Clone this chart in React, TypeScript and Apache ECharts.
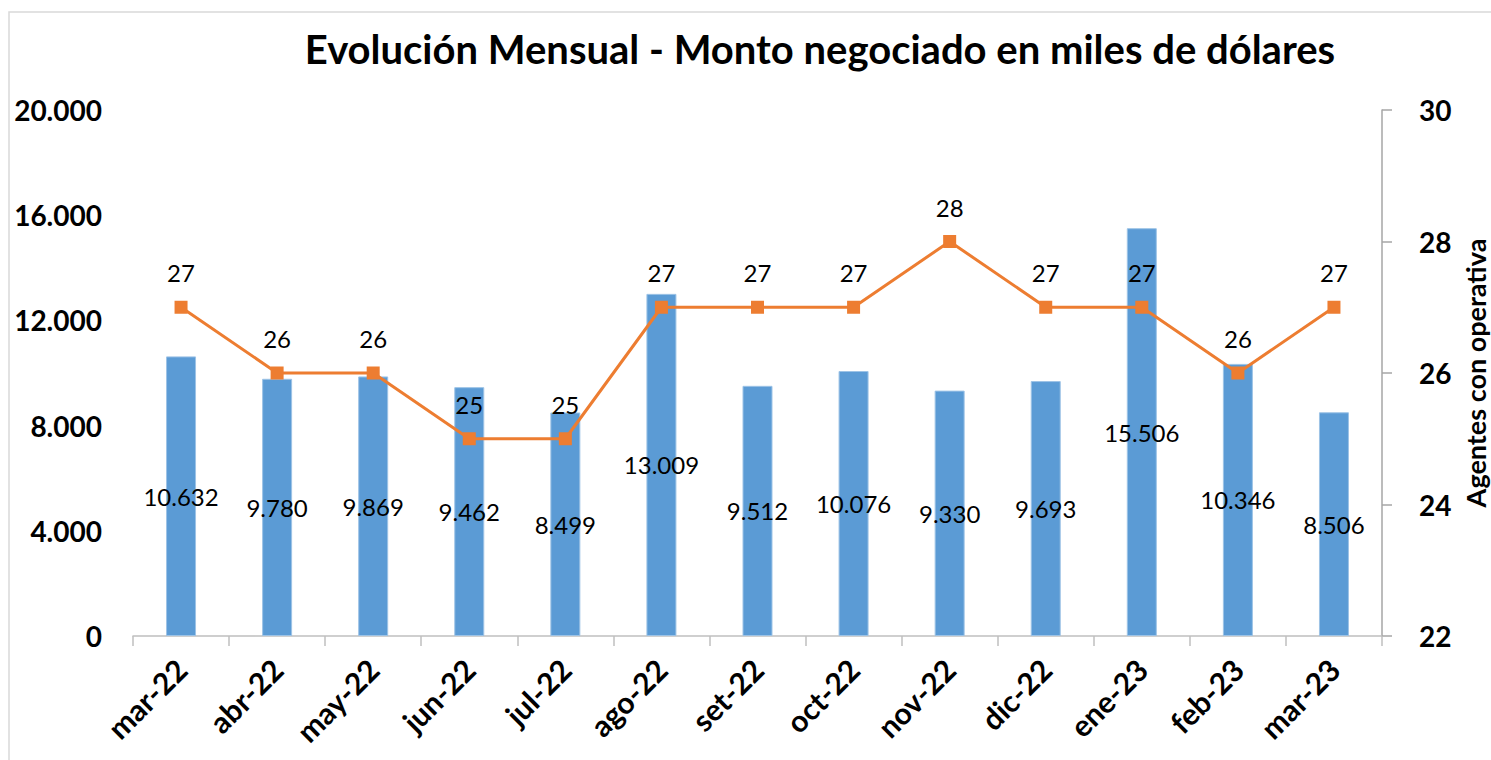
import React, { useEffect, useRef } from "react";
import * as echarts from "echarts";

const categories = ["mar-22", "abr-22", "may-22", "jun-22", "jul-22", "ago-22", "set-22", "oct-22", "nov-22", "dic-22", "ene-23", "feb-23", "mar-23"];
const montoValues = [10632, 9780, 9869, 9462, 8499, 13009, 9512, 10076, 9330, 9693, 15506, 10346, 8506];
const agentesValues = [27, 26, 26, 25, 25, 27, 27, 27, 28, 27, 27, 26, 27];
const leftTicks = { min: 0, max: 20000, interval: 4000 };
const rightTicks = { min: 22, max: 30, interval: 2 };

const fmt = (v: number) => {
  const s = Math.round(v).toString();
  return s.replace(/\B(?=(\d{3})+(?!\d))/g, ".");
};

const FONT = "Lato";

export default function App() {
  const ref = useRef<HTMLDivElement>(null);
  useEffect(() => {
    if (!ref.current) return;
    const chart = echarts.init(ref.current, undefined, { renderer: "svg" });
    chart.setOption({
      animation: false,
      backgroundColor: "#ffffff",
      textStyle: { fontFamily: FONT },
      title: {
        text: "Evolución Mensual - Monto negociado en miles de dólares",
        left: 815,
        textAlign: "center",
        top: 24,
        textStyle: { fontFamily: FONT, fontWeight: "bold", fontSize: 40, color: "#000" },
      },
      graphic: [
        {
          type: "rect",
          shape: { x: 9, y: 12, width: 1520, height: 800 },
          style: { fill: "none", stroke: "#d9d9d9", lineWidth: 1.5 },
          silent: true,
        },
      ],
      grid: { left: 133, right: 109, top: 110, bottom: 124, containLabel: false, outerBoundsMode: "none" },
      xAxis: {
        type: "category",
        data: categories,
        boundaryGap: true,
        axisLine: { show: true, lineStyle: { color: "#bfbfbf", width: 1.5 } },
        axisTick: { show: true, length: 10, lineStyle: { color: "#bfbfbf", width: 1.5 } },
        axisLabel: {
          rotate: 45,
          margin: 28,
          fontFamily: FONT,
          fontWeight: "bold",
          fontSize: 30,
          color: "#000",
          interval: 0,
        },
      },
      yAxis: [
        {
          type: "value",
          min: leftTicks.min,
          max: leftTicks.max,
          interval: leftTicks.interval,
          position: "left",
          axisLine: { show: false },
          axisTick: { show: false },
          splitLine: { show: false },
          axisLabel: {
            formatter: (v: number) => fmt(v),
            fontFamily: FONT,
            fontWeight: "bold",
            fontSize: 28,
            color: "#000",
            margin: 31,
          },
        },
        {
          type: "value",
          min: rightTicks.min,
          max: rightTicks.max,
          interval: rightTicks.interval,
          position: "right",
          name: "Agentes con operativa",
          nameLocation: "middle",
          nameRotate: 90,
          nameGap: 77,
          nameTextStyle: { fontFamily: FONT, fontWeight: "bold", fontSize: 27, color: "#000" },
          axisLine: { show: true, lineStyle: { color: "#a6a6a6", width: 1.5 } },
          axisTick: { show: true, inside: false, length: 10, lineStyle: { color: "#a6a6a6", width: 1.5 } },
          splitLine: { show: false },
          axisLabel: {
            fontFamily: FONT,
            fontWeight: "bold",
            fontSize: 28,
            color: "#000",
            margin: 37,
          },
        },
      ],
      series: [
        {
          type: "bar",
          name: "Monto",
          data: montoValues,
          yAxisIndex: 0,
          barWidth: 30,
          itemStyle: { color: "#5b9bd5", borderColor: "#9dc3e6", borderWidth: 1 },
          label: {
            show: true,
            position: "inside",
            formatter: (p: any) => fmt(p.value),
            fontFamily: FONT,
            fontSize: 24,
            color: "#000",
          },
          z: 2,
        },
        {
          type: "line",
          name: "Agentes",
          data: agentesValues,
          yAxisIndex: 1,
          symbol: "rect",
          symbolSize: 13,
          lineStyle: { color: "#ed7d31", width: 3 },
          itemStyle: { color: "#ed7d31" },
          label: {
            show: true,
            position: "top",
            distance: 16,
            fontFamily: FONT,
            fontSize: 24,
            color: "#000",
          },
          z: 3,
        },
      ],
    });
    return () => chart.dispose();
  }, []);
  return (
    <div
      ref={ref}
      style={{ position: "fixed", left: 0, top: 0, width: 1491, height: 760 }}
    />
  );
}
